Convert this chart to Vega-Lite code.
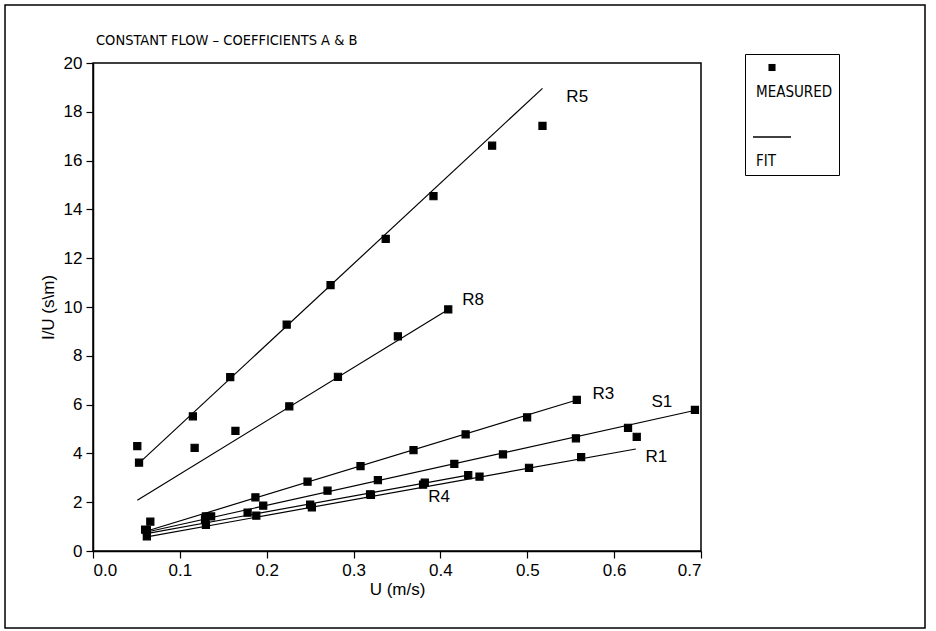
{
  "$schema": "https://vega.github.io/schema/vega-lite/v6.json",
  "width": 608,
  "height": 488,
  "autosize": {"type": "none"},
  "padding": {"left": 93, "top": 63, "right": 235, "bottom": 80},
  "background": "white",
  "title": {
    "text": "CONSTANT FLOW – COEFFICIENTS A & B",
    "anchor": "start",
    "frame": "group",
    "dx": 3,
    "offset": -44,
    "font": "DejaVu Sans Condensed, Liberation Sans, sans-serif",
    "fontSize": 14.5,
    "fontWeight": "normal",
    "color": "black"
  },
  "config": {
    "view": {"stroke": "black", "strokeWidth": 1.5},
    "axis": {
      "domainColor": "black",
      "domainWidth": 1.5,
      "tickColor": "black",
      "tickWidth": 1.2,
      "tickSize": 7,
      "labelPadding": 4,
      "labelFont": "Liberation Sans, Arial, sans-serif",
      "labelFontSize": 17,
      "labelColor": "black",
      "titleFont": "Liberation Sans, Arial, sans-serif",
      "titleFontSize": 17,
      "titleFontWeight": "normal",
      "titleColor": "black",
      "grid": false
    },
    "legend": {
      "title": null,
      "orient": "none",
      "legendX": 652,
      "legendY": -9,
      "padding": 6,
      "strokeColor": "black",
      "symbolStrokeWidth": 1.2,
      "symbolStrokeColor": "black",
      "symbolFillColor": "black",
      "symbolOpacity": 1,
      "symbolOffset": 1,
      "labelOffset": -36,
      "labelFont": "DejaVu Sans Condensed, Liberation Sans, sans-serif",
      "labelFontSize": 15,
      "labelColor": "black",
      "labelBaseline": "top",
      "labelLineHeight": 12.5,
      "rowPadding": -19
    },
    "text": {"font": "Liberation Sans, Arial, sans-serif"}
  },
  "datasets": {
    "measured": [
      {"series": "R5", "u": 0.053, "iu": 3.62},
      {"series": "R5", "u": 0.115, "iu": 5.52},
      {"series": "R5", "u": 0.158, "iu": 7.13},
      {"series": "R5", "u": 0.223, "iu": 9.28},
      {"series": "R5", "u": 0.2735, "iu": 10.9},
      {"series": "R5", "u": 0.337, "iu": 12.79},
      {"series": "R5", "u": 0.392, "iu": 14.54},
      {"series": "R5", "u": 0.4595, "iu": 16.61},
      {"series": "R5", "u": 0.5175, "iu": 17.42},
      {"series": "R8", "u": 0.051, "iu": 4.3},
      {"series": "R8", "u": 0.117, "iu": 4.23},
      {"series": "R8", "u": 0.164, "iu": 4.92},
      {"series": "R8", "u": 0.226, "iu": 5.93},
      {"series": "R8", "u": 0.282, "iu": 7.14},
      {"series": "R8", "u": 0.351, "iu": 8.8},
      {"series": "R8", "u": 0.409, "iu": 9.9},
      {"series": "R3", "u": 0.062, "iu": 0.85},
      {"series": "R3", "u": 0.13, "iu": 1.42},
      {"series": "R3", "u": 0.187, "iu": 2.2},
      {"series": "R3", "u": 0.247, "iu": 2.84},
      {"series": "R3", "u": 0.308, "iu": 3.48},
      {"series": "R3", "u": 0.369, "iu": 4.13},
      {"series": "R3", "u": 0.429, "iu": 4.78},
      {"series": "R3", "u": 0.4998, "iu": 5.48},
      {"series": "R3", "u": 0.557, "iu": 6.19},
      {"series": "S1", "u": 0.066, "iu": 1.2},
      {"series": "S1", "u": 0.129, "iu": 1.3},
      {"series": "S1", "u": 0.196, "iu": 1.86},
      {"series": "S1", "u": 0.27, "iu": 2.47},
      {"series": "S1", "u": 0.328, "iu": 2.9},
      {"series": "S1", "u": 0.416, "iu": 3.57},
      {"series": "S1", "u": 0.472, "iu": 3.96},
      {"series": "S1", "u": 0.556, "iu": 4.62},
      {"series": "S1", "u": 0.616, "iu": 5.05},
      {"series": "S1", "u": 0.626, "iu": 4.68},
      {"series": "S1", "u": 0.693, "iu": 5.78},
      {"series": "R1", "u": 0.062, "iu": 0.6},
      {"series": "R1", "u": 0.13, "iu": 1.07},
      {"series": "R1", "u": 0.188, "iu": 1.45},
      {"series": "R1", "u": 0.252, "iu": 1.79},
      {"series": "R1", "u": 0.319, "iu": 2.32},
      {"series": "R1", "u": 0.38, "iu": 2.72},
      {"series": "R1", "u": 0.445, "iu": 3.05},
      {"series": "R1", "u": 0.502, "iu": 3.41},
      {"series": "R1", "u": 0.562, "iu": 3.85},
      {"series": "R4", "u": 0.06, "iu": 0.88},
      {"series": "R4", "u": 0.136, "iu": 1.42},
      {"series": "R4", "u": 0.178, "iu": 1.57},
      {"series": "R4", "u": 0.25, "iu": 1.9},
      {"series": "R4", "u": 0.32, "iu": 2.3},
      {"series": "R4", "u": 0.382, "iu": 2.8},
      {"series": "R4", "u": 0.432, "iu": 3.11}
    ],
    "fit": [
      {"series": "R5", "u": 0.053, "iu": 3.6},
      {"series": "R5", "u": 0.5175, "iu": 18.96},
      {"series": "R8", "u": 0.051, "iu": 2.08},
      {"series": "R8", "u": 0.409, "iu": 9.9},
      {"series": "R3", "u": 0.062, "iu": 0.82},
      {"series": "R3", "u": 0.557, "iu": 6.19},
      {"series": "S1", "u": 0.062, "iu": 0.78},
      {"series": "S1", "u": 0.695, "iu": 5.78},
      {"series": "R1", "u": 0.062, "iu": 0.58},
      {"series": "R1", "u": 0.625, "iu": 4.18},
      {"series": "R4", "u": 0.06, "iu": 0.7},
      {"series": "R4", "u": 0.432, "iu": 3.11}
    ],
    "labels": [
      {"series": "R5", "u": 0.545, "iu": 18.6},
      {"series": "R8", "u": 0.425, "iu": 10.3},
      {"series": "R3", "u": 0.575, "iu": 6.45},
      {"series": "S1", "u": 0.643, "iu": 6.1},
      {"series": "R1", "u": 0.636, "iu": 3.85},
      {"series": "R4", "u": 0.386, "iu": 2.2}
    ]
  },
  "layer": [
    {
      "data": {"values": [{"frame": "outer"}]},
      "mark": {"type": "rect", "fill": null, "fillOpacity": 0, "stroke": "black", "strokeWidth": 1.5, "clip": false},
      "encoding": {
        "x": {"datum": -0.1013, "type": "quantitative"},
        "x2": {"datum": 0.9579},
        "y": {"datum": 22.38, "type": "quantitative"},
        "y2": {"datum": -3.156}
      }
    },
    {
      "data": {"name": "fit"},
      "mark": {"type": "line", "color": "black", "strokeWidth": 1.2},
      "encoding": {
        "x": {"field": "u", "type": "quantitative", "scale": {"domain": [0, 0.7], "nice": false},
              "axis": {"title": "U (m/s)", "values": [0, 0.1, 0.2, 0.3, 0.4, 0.5, 0.6, 0.7], "format": ".1f", "titlePadding": 3}},
        "y": {"field": "iu", "type": "quantitative", "scale": {"domain": [0, 20], "nice": false},
              "axis": {"title": "I/U (s\\m)", "values": [0, 2, 4, 6, 8, 10, 12, 14, 16, 18, 20], "titlePadding": 6}},
        "detail": {"field": "series"}
      }
    },
    {
      "data": {"name": "measured"},
      "mark": {"type": "point", "filled": false, "fill": "black", "fillOpacity": 1, "stroke": "black", "strokeWidth": 1.2, "opacity": 1},
      "encoding": {
        "x": {"field": "u", "type": "quantitative"},
        "y": {"field": "iu", "type": "quantitative"},
        "shape": {
          "datum": "MEASURED",
          "scale": {"domain": ["MEASURED", "FIT"], "range": ["square", "M-1,-0.035L1,-0.035L1,0.035L-1,0.035Z"]},
          "legend": {"labelExpr": "datum.label == 'FIT' ? ['', 'FIT'] : ['', '', datum.label]"}
        },
        "size": {
          "datum": "MEASURED",
          "scale": {"domain": ["MEASURED", "FIT"], "range": [50, 1444]},
          "legend": {"labelExpr": "datum.label == 'FIT' ? ['', 'FIT'] : ['', '', datum.label]"}
        }
      }
    },
    {
      "data": {"name": "labels"},
      "mark": {"type": "text", "align": "left", "baseline": "middle", "fontSize": 17, "color": "black"},
      "encoding": {
        "x": {"field": "u", "type": "quantitative"},
        "y": {"field": "iu", "type": "quantitative"},
        "text": {"field": "series"}
      }
    }
  ]
}
